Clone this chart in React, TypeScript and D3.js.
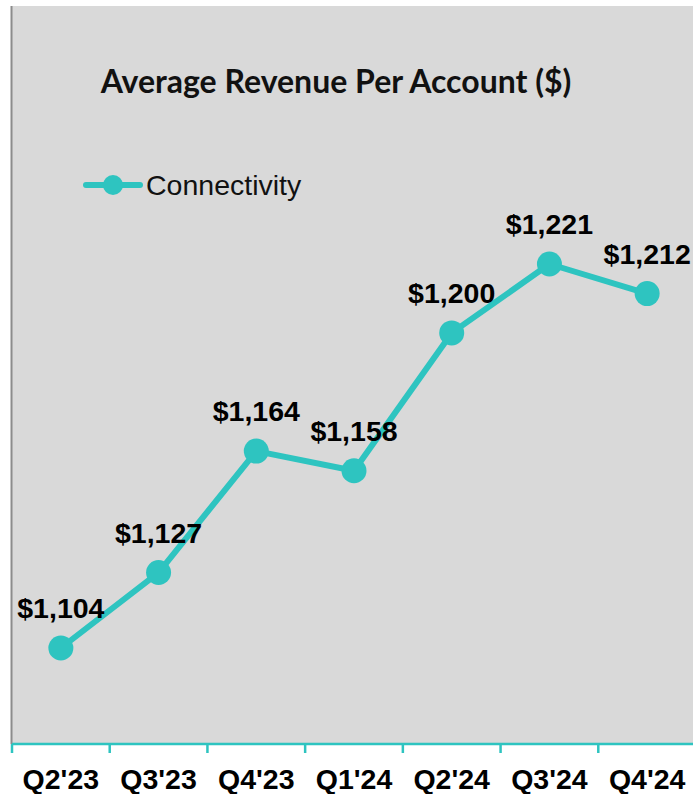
import React from "react";
import * as d3 from "d3";

const quarters = ["Q2'23", "Q3'23", "Q4'23", "Q1'24", "Q2'24", "Q3'24", "Q4'24"];
const revenue = [1104, 1127, 1164, 1158, 1200, 1221, 1212];
const seriesName = "Connectivity";
const title = "Average Revenue Per Account ($)";

const W = 693;
const H = 794;
const teal = "#2ec4c0";
const arial = "Liberation Sans, Arial, sans-serif";

const App = () => {
  const plot = { left: 12, right: 696, top: 6, bottom: 744 };

  const x = d3.scaleBand<string>().domain(quarters).range([plot.left, plot.right]);
  const y = d3.scaleLinear().domain([1104, 1221]).range([648, 264]);

  const pts = quarters.map((q, i) => ({
    q,
    v: revenue[i],
    cx: (x(q) ?? 0) + x.bandwidth() / 2,
    cy: y(revenue[i]),
  }));

  const line = d3.line<{ cx: number; cy: number }>().x((d) => d.cx).y((d) => d.cy);
  const fmt = d3.format(",");

  return (
    <svg
      width={W}
      height={H}
      style={{ position: "absolute", left: 0, top: 0, background: "#fff" }}
    >
      <rect x={plot.left} y={plot.top} width={W - plot.left} height={plot.bottom - plot.top} fill="#d9d9d9" />
      <line x1={11.5} x2={11.5} y1={plot.top} y2={plot.bottom} stroke="#8c8c8c" strokeWidth={2} />

      <text
        x={336}
        y={93}
        textAnchor="middle"
        fontFamily="Lato, sans-serif"
        fontWeight="bold"
        fontSize={32}
        fill="#111"
      >
        {title}
      </text>

      {/* legend */}
      <line x1={86} x2={140} y1={185} y2={185} stroke={teal} strokeWidth={6} strokeLinecap="round" />
      <circle cx={113} cy={185} r={10} fill={teal} />
      <text x={146} y={195} fontFamily={arial} fontSize={28.5} fill="#111">
        {seriesName}
      </text>

      <path d={line(pts) ?? ""} fill="none" stroke={teal} strokeWidth={6} strokeLinejoin="round" />
      {pts.map((p) => (
        <g key={p.q}>
          <circle cx={p.cx} cy={p.cy} r={12.5} fill={teal} />
          <text
            x={p.cx}
            y={p.cy - 30}
            textAnchor="middle"
            fontFamily={arial}
            fontWeight="bold"
            fontSize={28.5}
            fill="#000"
          >
            ${fmt(p.v)}
          </text>
        </g>
      ))}

      {/* x axis */}
      <line x1={plot.left} x2={W} y1={plot.bottom} y2={plot.bottom} stroke={teal} strokeWidth={2.5} />
      {quarters.map((q) => (
        <line
          key={"t" + q}
          x1={x(q) ?? 0}
          x2={x(q) ?? 0}
          y1={plot.bottom}
          y2={plot.bottom + 9}
          stroke={teal}
          strokeWidth={2.5}
        />
      ))}
      {quarters.map((q) => (
        <text
          key={"l" + q}
          x={(x(q) ?? 0) + x.bandwidth() / 2}
          y={789}
          textAnchor="middle"
          fontFamily={arial}
          fontWeight="bold"
          fontSize={28.5}
          fill="#000"
        >
          {q}
        </text>
      ))}
    </svg>
  );
};

export default App;
